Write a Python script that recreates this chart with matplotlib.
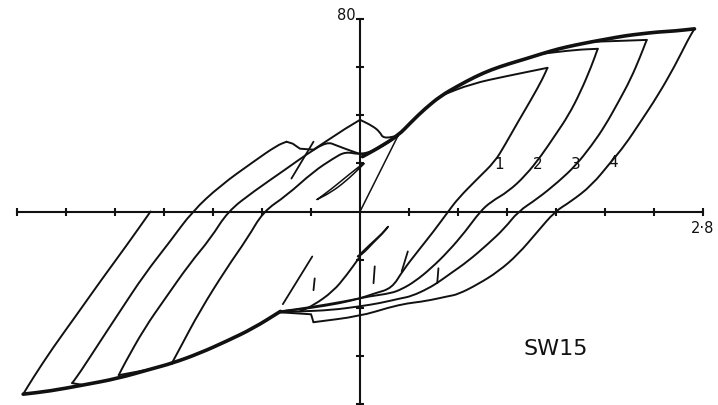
import matplotlib
matplotlib.use("Agg")
import matplotlib.pyplot as plt
from matplotlib.path import Path
from matplotlib.patches import PathPatch
import numpy as np

# Wall SW15: lateral load (kN) against top displacement (mm), cycles 1-4.

X_TICKS = [-2.8, -2.4, -2.0, -1.6, -1.2, -0.8, -0.4, 0.4, 0.8, 1.2, 1.6, 2.0, 2.4, 2.8]
Y_TICKS = [-80, -60, -40, -20, 20, 40, 60, 80]

# Positive envelope shared by the reloading branches
ENV_UP_X = [0.02, 0.14, 0.31, 0.42, 0.53, 0.66, 0.80, 0.94, 1.07, 1.21, 1.35,
            1.48, 1.62, 1.76, 1.89, 2.02, 2.16, 2.29, 2.43, 2.57, 2.73]
ENV_UP_Y = [22.8, 26.1, 31.5, 37.3, 42.7, 48.1, 52.2, 56.0, 58.9, 61.3, 63.4,
            65.5, 67.6, 69.2, 70.5, 71.7, 73.0, 73.8, 74.6, 75.0, 75.9]

# Branches leaving the envelope towards the peaks of cycles 1-3
PEAK1 = [(0.66, 48.1), (0.91, 53.1), (1.21, 56.4), (1.53, 59.7)]
PEAK2 = [(1.48, 65.5), (1.76, 67.2), (1.94, 67.6)]
PEAK3 = [(1.89, 70.5), (2.12, 70.9), (2.34, 71.3)]

# Unloading branches from the positive peaks (labelled 1-4)
UNLOAD1 = [(1.53, 59.7), (1.49, 55.1), (1.40, 46.8), (1.29, 37.3), (1.18, 27.4),
           (1.10, 20.7), (0.96, 13.7), (0.80, 5.4), (0.72, 0.0), (0.60, -8.3),
           (0.47, -16.6), (0.35, -24.5), (0.26, -31.9), (0.12, -34.0), (0.0, -36.1),
           (-0.16, -38.1), (-0.41, -40.2), (-0.65, -41.5)]
UNLOAD2 = [(1.94, 67.6), (1.89, 60.5), (1.80, 49.7), (1.70, 39.8), (1.59, 31.5),
           (1.48, 23.2), (1.35, 14.9), (1.21, 8.3), (1.07, 4.1), (0.98, 0.0),
           (0.86, -8.3), (0.72, -16.6), (0.58, -23.6), (0.45, -29.0), (0.34, -32.3),
           (0.25, -34.0), (0.08, -35.2), (-0.12, -37.3), (-0.41, -39.8), (-0.65, -41.5)]
UNLOAD3 = [(2.34, 71.3), (2.29, 64.7), (2.21, 55.1), (2.11, 45.6), (2.00, 35.6),
           (1.89, 27.4), (1.76, 19.1), (1.62, 12.4), (1.45, 5.4), (1.29, 0.0),
           (1.18, -7.0), (1.04, -13.7), (0.88, -20.7), (0.74, -25.7), (0.65, -29.0),
           (0.56, -31.9), (0.42, -35.2), (0.33, -36.1), (0.16, -38.1), (0.0, -39.4),
           (-0.24, -41.0), (-0.49, -41.5), (-0.65, -41.9)]
UNLOAD4 = [(2.73, 75.9), (2.68, 71.7), (2.57, 60.5), (2.43, 48.1), (2.29, 37.3),
           (2.16, 27.4), (2.05, 20.7), (1.89, 10.8), (1.72, 4.1), (1.59, 0.0),
           (1.45, -8.3), (1.29, -17.8), (1.13, -24.9), (0.96, -30.3), (0.80, -34.4),
           (0.72, -35.2), (0.53, -37.3), (0.39, -38.1), (0.24, -39.8), (0.0, -43.5),
           (-0.38, -46.0)]
UNLOAD4_STEP = [(-0.38, -46.0), (-0.40, -42.7), (-0.65, -41.9)]

# Negative envelope shared by the unloading branches
ENV_LO_X = [-0.65, -0.87, -1.09, -1.31, -1.53, -1.71, -1.98, -2.26, -2.53, -2.75]
ENV_LO_Y = [-41.5, -48.5, -53.9, -58.9, -63.0, -65.5, -69.4, -72.1, -74.6, -75.9]

# Negative peaks of cycles 1-3 (cycle 4 ends the envelope)
NEG_PEAKS = [(-1.54, -63.4), (-1.97, -68.0), (-2.35, -71.3)]

# Reloading branches from the negative peaks
RELOAD1 = [(-1.54, -63.4), (-1.47, -56.8), (-1.31, -41.5), (-1.09, -23.6),
           (-0.92, -11.2), (-0.79, 0.0), (-0.60, 6.6), (-0.38, 16.6), (-0.22, 22.0),
           (-0.12, 24.9), (0.0, 23.6), (0.14, 25.7), (0.31, 31.5)]
RELOAD2 = [(-1.97, -68.0), (-1.92, -63.0), (-1.76, -48.5), (-1.59, -36.1),
           (-1.39, -21.6), (-1.22, -11.2), (-1.08, 0.0), (-0.87, 8.3), (-0.60, 17.8),
           (-0.43, 24.0), (-0.27, 29.0), (-0.19, 27.4), (-0.08, 25.3), (0.04, 23.2),
           (0.16, 26.9), (0.31, 31.5)]
RELOAD3 = [(-2.35, -71.3), (-2.29, -67.2), (-2.12, -53.9), (-1.96, -41.5),
           (-1.76, -26.1), (-1.55, -12.4), (-1.37, 0.0), (-1.14, 10.8), (-0.87, 20.7),
           (-0.68, 27.4), (-0.60, 29.0)]
RELOAD3_PINCH = [(-0.60, 29.0), (-0.55, 28.2), (-0.49, 26.1), (-0.38, 25.7),
                 (-0.27, 29.4), (-0.12, 34.4), (0.0, 38.1)]
RELOAD3_HUMP = [(0.0, 38.1), (0.10, 35.6), (0.16, 33.2), (0.19, 30.3), (0.31, 31.5)]
RELOAD4 = [(-2.75, -75.9), (-2.67, -69.2), (-2.51, -56.8), (-2.31, -42.7),
           (-2.12, -29.0), (-1.90, -13.7), (-1.71, 0.0)]

# Initial small cycles near the origin
FIRST_LOAD = [(0.0, 0.0), (0.31, 31.5)]
SMALL_UP = [(-0.35, 5.0), (-0.24, 9.1), (-0.12, 14.1), (-0.02, 18.2), (0.05, 20.7),
            (0.0, 18.2), (-0.12, 12.4), (-0.24, 7.9), (-0.35, 5.0)]
SMALL_LO = [(-0.02, -18.7), (0.08, -13.7), (0.18, -9.1), (0.24, -5.4), (0.21, -7.9),
            (0.11, -12.9), (0.02, -17.8), (-0.02, -18.7)]
SMALL_LINK = [(0.0, -18.7), (-0.11, -26.5), (-0.22, -33.2), (-0.38, -39.0), (-0.49, -41.5)]

# Load drops recorded in the pinched region
DROPS = [[(-0.56, 13.7), (-0.38, 29.0)],
         [(-0.39, -18.7), (-0.63, -38.5)],
         [(-0.37, -27.8), (-0.38, -32.7)],
         [(0.12, -22.8), (0.11, -29.8)],
         [(0.39, -16.6), (0.34, -24.9)],
         [(0.64, -23.6), (0.63, -29.8)]]

CYCLE_LABELS = ["1", "2", "3", "4"]
SPECIMEN = "SW15"

INK = "#111111"

fig = plt.figure(figsize=(7.18, 4.06), dpi=100)
ax = fig.add_axes([0, 0, 1, 1])
ax.set_xlim(-2.939, 2.922)
ax.set_ylim(-80.4, 88.3)
ax.axis("off")


def draw(points, lw=1.4):
    """Straight polyline through the points."""
    pts = np.asarray(points)
    ax.plot(pts[:, 0], pts[:, 1], color=INK, lw=lw,
            solid_joinstyle="round", solid_capstyle="round")


def draw_smooth(points, lw=1.4):
    """Pen trace through the points, rounded with quadratic Bezier segments."""
    pts = [tuple(p) for p in points]
    if len(pts) < 3:
        draw(pts, lw)
        return
    verts = [pts[0]]
    codes = [Path.MOVETO]
    mids = [((a[0] + b[0]) / 2, (a[1] + b[1]) / 2) for a, b in zip(pts[:-1], pts[1:])]
    verts.append(mids[0])
    codes.append(Path.LINETO)
    for i in range(1, len(pts) - 1):
        verts += [pts[i], mids[i]]
        codes += [Path.CURVE3, Path.CURVE3]
    verts.append(pts[-1])
    codes.append(Path.LINETO)
    ax.add_patch(PathPatch(Path(verts, codes), fill=False, edgecolor=INK, lw=lw,
                           joinstyle="round", capstyle="round"))


# axes through the origin with small tick marks
ax.plot([X_TICKS[0], X_TICKS[-1]], [0, 0], color=INK, lw=1.5)
ax.plot([0, 0], [Y_TICKS[0], Y_TICKS[-1]], color=INK, lw=1.5)
ax.plot(X_TICKS, [0] * len(X_TICKS), ls="none", marker="|", ms=6, mew=1.5, color=INK)
ax.plot([0] * len(Y_TICKS), Y_TICKS, ls="none", marker="_", ms=6, mew=1.5, color=INK)

# envelopes (traced over by several cycles)
draw_smooth(list(zip(ENV_UP_X, ENV_UP_Y)), lw=2.6)
draw_smooth(list(zip(ENV_LO_X, ENV_LO_Y)), lw=2.6)

for br in (PEAK1, PEAK2, PEAK3):
    draw_smooth(br)
for br in (UNLOAD1, UNLOAD2, UNLOAD3, UNLOAD4):
    draw_smooth(br)
draw(UNLOAD4_STEP)
for br in (RELOAD1, RELOAD2, RELOAD3, RELOAD4):
    draw_smooth(br)
draw(RELOAD3_PINCH)
draw_smooth(RELOAD3_HUMP)

# short joins from the envelope to the negative peaks of cycles 1-3
for (px, py), i in zip(NEG_PEAKS, (4, 5, 7)):
    draw([(ENV_LO_X[i], ENV_LO_Y[i]), (px, py)])

draw(FIRST_LOAD, lw=1.1)
draw_smooth(SMALL_UP, lw=1.1)
draw_smooth(SMALL_LO, lw=1.1)
draw_smooth(SMALL_LINK, lw=1.4)
for d in DROPS:
    draw(d, lw=1.3)

# texts
ax.text(-0.04, 81.8, "80", ha="right", va="center", fontsize=10.5, color=INK)
ax.text(2.80, -6.5, "2\u00b78", ha="center", va="center", fontsize=10.5, color=INK)
for lab, x, y in zip(CYCLE_LABELS, [1.135, 1.449, 1.759, 2.065], [19.9, 19.9, 19.9, 20.7]):
    ax.text(x, y, lab, ha="center", va="center", fontsize=11, color=INK)
ax.text(1.60, -56.8, SPECIMEN, ha="center", va="center", fontsize=16, color=INK)

fig.savefig("out.png", dpi=100)
